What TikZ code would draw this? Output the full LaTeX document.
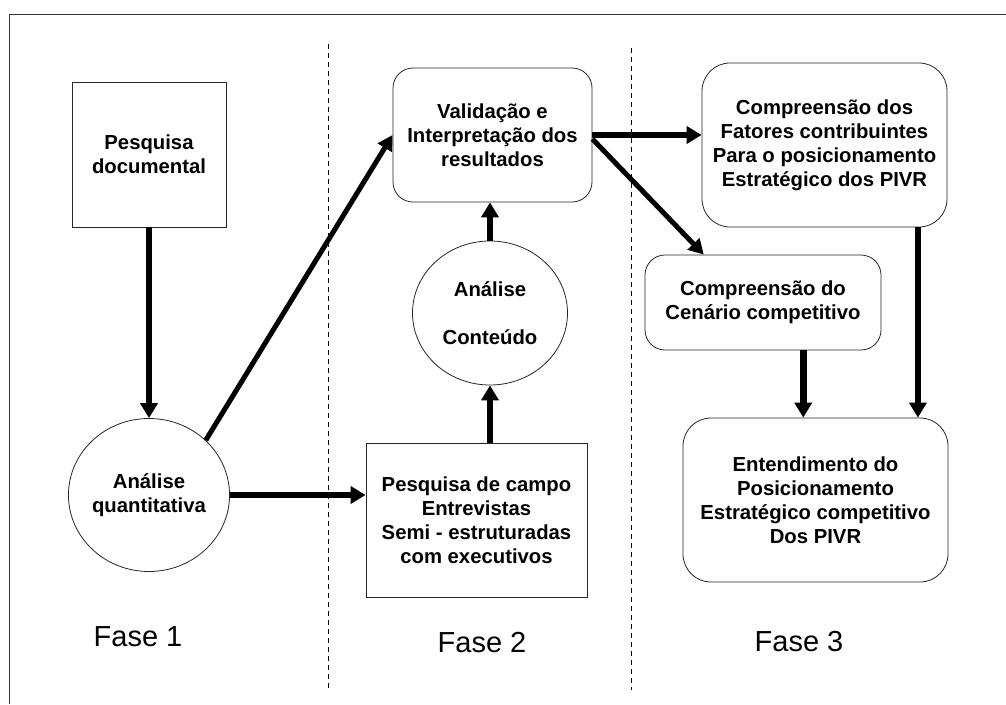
\documentclass[tikz,border=0pt]{standalone}
\usepackage{fontspec}
\setmainfont{Liberation Sans}
\usetikzlibrary{arrows.meta,shapes.geometric,calc}
\begin{document}
\begin{tikzpicture}[x=1pt,y=-1pt,
  lbl/.style={font=\fontsize{20.3}{24}\selectfont\bfseries, align=center, inner sep=0pt, draw=black!85, line width=0.8pt},
  sqbox/.style={lbl, rectangle},
  rbox/.style={lbl, rectangle, rounded corners=20pt},
  rbig/.style={lbl, rectangle, rounded corners=28pt},
  circ/.style={lbl, ellipse},
  fase/.style={font=\fontsize{29}{34}\selectfont, inner sep=0pt},
  flow/.style={line width=6.5pt, -{Triangle[width=17pt,length=15pt]}},
  diag/.style={line width=5pt, -{Triangle[width=16pt,length=15pt]}},
  sep/.style={line width=0.8pt, dash pattern=on 5pt off 4pt}
]
\useasboundingbox (0,0) rectangle (1006,704);
% frame
\draw[line width=1pt, black!80] (9,704) -- (9,14) -- (1006,14);
% phase separators
\coordinate (s1a) at (328,44); \coordinate (s1b) at (328,688);
\coordinate (s2a) at (631,48); \coordinate (s2b) at (631,690);
\draw[sep] (s1a) -- (s1b);
\draw[sep] (s2a) -- (s2b);

% nodes
\node[sqbox, minimum width=154pt, minimum height=145pt] (pd) at (149,154.5) {Pesquisa\\documental};
\node[circ, minimum width=154pt, minimum height=153pt] (aq) at (149,495) {Análise\\quantitativa};
\node[rbox, minimum width=199pt, minimum height=134pt] (val) at (492.5,135) {Validação e\\Interpretação dos\\resultados};
\node[circ, minimum width=155pt, minimum height=144pt] (ac) at (490,313) {Análise\\[24pt]Conteúdo};
\node[sqbox, minimum width=221pt, minimum height=154pt] (pc) at (476.5,520) {Pesquisa de campo\\Entrevistas\\Semi - estruturadas\\com executivos};
\node[rbig, minimum width=245pt, minimum height=164pt] (fat) at (824.5,145) {Compreensão dos\\Fatores contribuintes\\Para o posicionamento\\Estratégico dos PIVR};
\node[rbox, minimum width=236pt, minimum height=95pt] (cen) at (763,302.5) {Compreensão do\\Cenário competitivo};
\node[rbig, minimum width=265pt, minimum height=164pt] (ent) at (815.5,500) {Entendimento do\\Posicionamento\\Estratégico competitivo\\Dos PIVR};

\node[fase] (f1) at (138,637) {Fase 1};
\node[fase] (f2) at (482,643) {Fase 2};
\node[fase] (f3) at (799,642) {Fase 3};

% connectors
\draw[flow] (pd.south) -- (aq.north);
\draw[diag] (aq.44) -- (val.west);
\draw[flow] (aq.east) -- (aq.east -| pc.west);
\draw[flow] (pc.north -| ac.south) -- (ac.south);
\draw[flow] (ac.north) -- (ac.north |- val.south);
\draw[flow] (val.east) -- (val.east -| fat.west);
\coordinate (cenin) at ($(cen.north west)!0.25!(cen.north east)$);
\draw[diag] ([yshift=-4pt]val.east) -- (cenin);
\coordinate (cenout) at ($(cen.south west)!0.67!(cen.south east)$);
\draw[flow] (cenout) -- (cenout |- ent.north);
\coordinate (fatout) at ($(fat.south west)!0.88!(fat.south east)$);
\draw[flow] (fatout) -- (fatout |- ent.north);
\end{tikzpicture}
\end{document}
